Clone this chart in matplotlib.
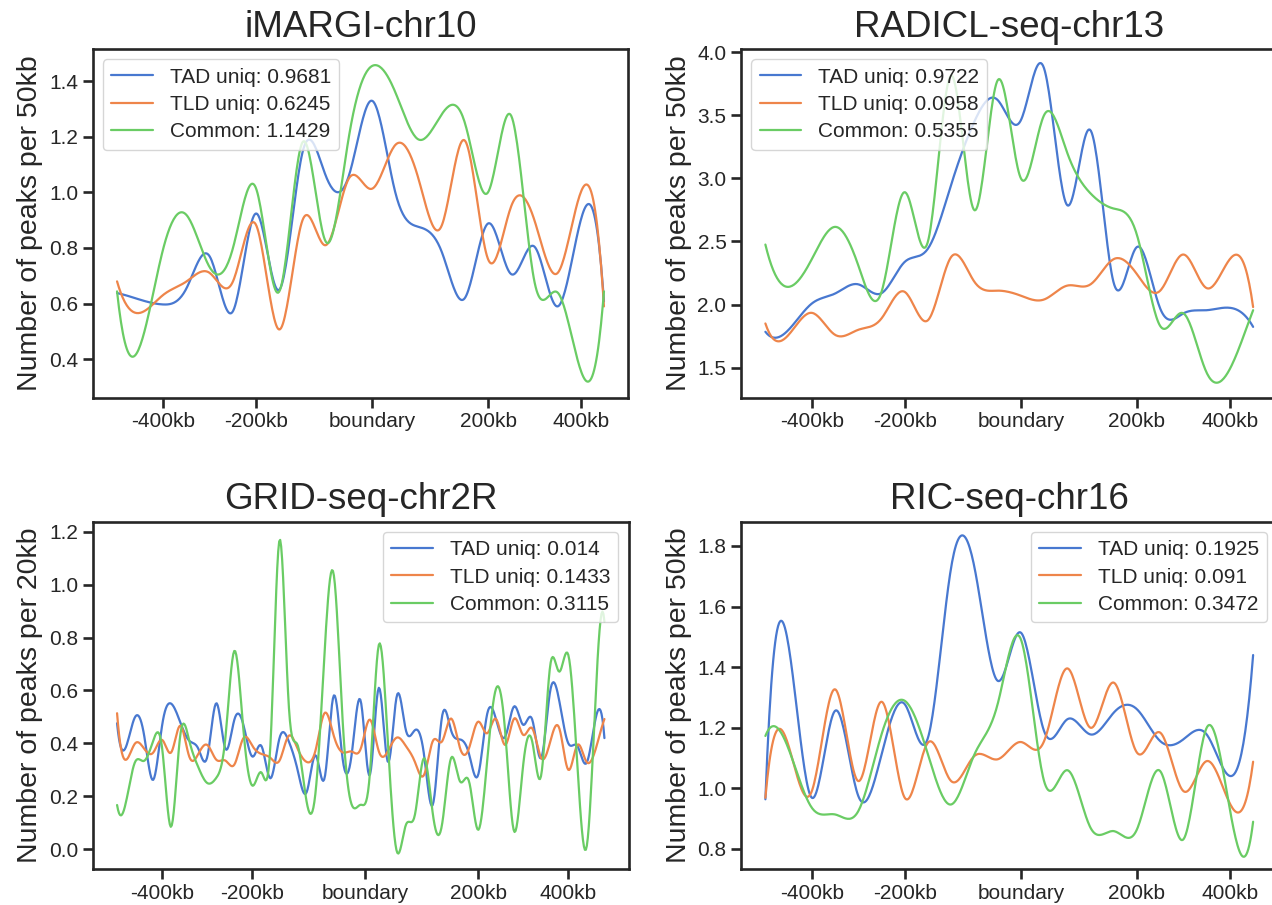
import numpy as np
import matplotlib
matplotlib.use("Agg")
import matplotlib.pyplot as plt
import seaborn as sns

# ---------------- data ----------------
tick_kb = [-450, -250, 0, 250, 450]
tick_labels = ["-400kb", "-200kb", "boundary", "200kb", "400kb"]
series_names = ["TAD uniq", "TLD uniq", "Common"]

# 50kb bins (22 bins), 20kb bins (55 bins)
x50 = np.arange(-550, 501, 50)
x20 = np.arange(-550, 531, 20)

imargi_tad = [0.638, 0.614, 0.597, 0.656, 0.769, 0.573, 0.924, 0.65, 1.144, 1.06, 1.06,
              1.329, 1.0, 0.876, 0.787, 0.62, 0.888, 0.706, 0.805, 0.59, 0.90, 0.608]
imargi_tld = [0.680, 0.567, 0.632, 0.68, 0.71, 0.68, 0.882, 0.507, 0.9, 0.81, 1.05,
              1.013, 1.17, 1.049, 0.88, 1.186, 0.76, 0.95, 0.9, 0.71, 1.0, 0.59]
imargi_common = [0.644, 0.45, 0.80, 0.918, 0.73, 0.80, 1.013, 0.644, 1.18, 0.823, 1.2,
                 1.454, 1.36, 1.19, 1.28, 1.25, 1.0, 1.275, 0.68, 0.64, 0.36, 0.644]
imargi_scores = [0.9681, 0.6245, 1.1429]

radicl_tad = [1.784, 1.80, 2.008, 2.087, 2.16, 2.09, 2.338, 2.443, 2.95, 3.45, 3.62,
              3.46, 3.87, 2.786, 3.38, 2.17, 2.456, 1.968, 1.93, 1.955, 1.974, 1.823]
radicl_tld = [1.85, 1.76, 1.934, 1.76, 1.8, 1.89, 2.1, 1.876, 2.377, 2.18, 2.11,
              2.07, 2.04, 2.15, 2.16, 2.36, 2.24, 2.11, 2.396, 2.13, 2.36, 1.98]
radicl_common = [2.475, 2.14, 2.36, 2.615, 2.31, 2.1, 2.89, 2.5, 3.815, 2.747, 3.776,
                 3.0, 3.5, 3.2, 2.88, 2.76, 2.55, 1.83, 1.93, 1.46, 1.49, 1.955]
radicl_scores = [0.9722, 0.0958, 0.5355]

grid_tad = [0.476, 0.388, 0.50, 0.43, 0.262, 0.47, 0.55, 0.48, 0.41, 0.38, 0.35,
            0.552, 0.38, 0.49, 0.47, 0.35, 0.39, 0.268, 0.42, 0.41, 0.30, 0.215,
            0.355, 0.27, 0.58, 0.34, 0.36, 0.56, 0.28, 0.61, 0.33, 0.58, 0.45,
            0.45, 0.36, 0.17, 0.50, 0.45, 0.415, 0.36, 0.28, 0.51, 0.49, 0.425,
            0.54, 0.47, 0.49, 0.345, 0.60, 0.56, 0.40, 0.39, 0.325, 0.49, 0.42]
grid_tld = [0.514, 0.338, 0.40, 0.38, 0.365, 0.413, 0.366, 0.467, 0.35, 0.36, 0.394,
            0.338, 0.335, 0.32, 0.42, 0.39, 0.36, 0.345, 0.335, 0.428, 0.38, 0.33,
            0.375, 0.515, 0.43, 0.366, 0.369, 0.38, 0.49, 0.37, 0.37, 0.422, 0.39,
            0.33, 0.28, 0.41, 0.407, 0.494, 0.382, 0.382, 0.482, 0.438, 0.492, 0.394,
            0.494, 0.432, 0.457, 0.344, 0.407, 0.457, 0.30, 0.394, 0.331, 0.375, 0.492]
grid_common = [0.167, 0.18, 0.33, 0.334, 0.41, 0.38, 0.085, 0.43, 0.41, 0.31, 0.25,
               0.27, 0.42, 0.75, 0.45, 0.24, 0.29, 0.40, 1.169, 0.558, 0.394, 0.18,
               0.218, 0.75, 1.04, 0.482, 0.168, 0.168, 0.281, 0.772, 0.407, -0.009, 0.092,
               0.13, 0.344, 0.13, 0.092, 0.344, 0.256, 0.256, 0.073, 0.331, 0.608, 0.445,
               0.067, 0.319, 0.407, 0.281, 0.696, 0.671, 0.734, 0.319, 0.004, 0.56, 0.86]
grid_scores = [0.014, 0.1433, 0.3115]

ric_tad = [0.964, 1.47, 0.969, 1.256, 0.975, 1.112, 1.278, 1.167, 1.73, 1.73, 1.355,
           1.514, 1.189, 1.228, 1.178, 1.25, 1.261, 1.156, 1.162, 1.178, 1.041, 1.44]
ric_tld = [0.969, 1.14, 0.991, 1.327, 1.024, 1.286, 0.969, 1.151, 1.024, 1.107, 1.096,
           1.153, 1.156, 1.396, 1.2, 1.349, 1.118, 1.184, 0.991, 1.09, 0.95, 1.088]
ric_common = [1.173, 1.13, 0.936, 0.914, 0.925, 1.178, 1.289, 1.112, 0.947, 1.112, 1.278,
              1.492, 1.024, 1.06, 0.87, 0.859, 0.865, 1.057, 0.832, 1.2, 0.93, 0.89]
ric_scores = [0.1925, 0.091, 0.3472]


# ------------- cubic spline (not-a-knot), used only for drawing -------------
def smooth(x, y, num=500):
    y = np.asarray(y, float)
    n = len(y)
    N = 4 * (n - 1)
    A = np.zeros((N, N))
    b = np.zeros(N)
    r = 0
    for i in range(n - 1):
        A[r, 4 * i] = 1; b[r] = y[i]; r += 1
        A[r, 4 * i:4 * i + 4] = [1, 1, 1, 1]; b[r] = y[i + 1]; r += 1
    for i in range(n - 2):
        A[r, 4 * i:4 * i + 4] = [0, 1, 2, 3]; A[r, 4 * (i + 1) + 1] = -1; r += 1
        A[r, 4 * i:4 * i + 4] = [0, 0, 2, 6]; A[r, 4 * (i + 1) + 2] = -2; r += 1
    A[r, 3] = 1; A[r, 7] = -1; r += 1
    A[r, 4 * (n - 3) + 3] = 1; A[r, 4 * (n - 2) + 3] = -1; r += 1
    coef = np.linalg.solve(A, b).reshape(-1, 4)
    u = np.linspace(0, n - 1, num)
    idx = np.clip(np.floor(u).astype(int), 0, n - 2)
    t = u - idx
    c = coef[idx]
    ys = c[:, 0] + c[:, 1] * t + c[:, 2] * t ** 2 + c[:, 3] * t ** 3
    xs = x[0] + u * (x[1] - x[0])
    return xs, ys


# ---------------- style ----------------
sns.set_theme(style="ticks", palette="muted")
plt.rcParams["font.family"] = ["Liberation Sans", "DejaVu Sans"]
colors = sns.color_palette("muted")[:3]

fig = plt.figure(figsize=(12.72, 9.05), dpi=100)
W, H = 1272.0, 905.0


def rect(l, r, t, b):
    return [l / W, 1 - b / H, (r - l) / W, (b - t) / H]


panels = [
    dict(title="iMARGI-chr10", x=x50, ys=[imargi_tad, imargi_tld, imargi_common],
         sc=imargi_scores, ylab="Number of peaks per 50kb", loc="upper left",
         rect=rect(92.7, 628.3, 49, 397.7), ylim=(0.262, 1.515)),
    dict(title="RADICL-seq-chr13", x=x50, ys=[radicl_tad, radicl_tld, radicl_common],
         sc=radicl_scores, ylab="Number of peaks per 50kb", loc="upper left",
         rect=rect(741.0, 1277.5, 49, 397.7), ylim=(1.262, 4.024)),
    dict(title="GRID-seq-chr2R", x=x20, ys=[grid_tad, grid_tld, grid_common],
         sc=grid_scores, ylab="Number of peaks per 20kb", loc="upper right",
         rect=rect(92.7, 628.8, 521.7, 869.3), ylim=(-0.076, 1.238)),
    dict(title="RIC-seq-chr16", x=x50, ys=[ric_tad, ric_tld, ric_common],
         sc=ric_scores, ylab="Number of peaks per 50kb", loc="upper right",
         rect=rect(741.0, 1277.5, 521.7, 869.3), ylim=(0.733, 1.88)),
]

for p in panels:
    ax = fig.add_axes(p["rect"])
    for name, yv, s, col in zip(series_names, p["ys"], p["sc"], colors):
        xs, ys = smooth(p["x"], yv)
        ax.plot(xs, ys, color=col, lw=1.6, label=f"{name}: {s}")
    ax.set_xlim(p["x"][0] - 0.05 * (p["x"][-1] - p["x"][0]),
                p["x"][-1] + 0.05 * (p["x"][-1] - p["x"][0]))
    ax.set_ylim(*p["ylim"])
    ax.set_xticks(tick_kb)
    ax.set_xticklabels(tick_labels)
    ax.set_title(p["title"], fontsize=26.5, color=".15", pad=9)
    ax.set_ylabel(p["ylab"], fontsize=20.5, color=".15")
    ax.tick_params(labelsize=15, length=7, width=1.9, colors=".15", labelcolor=".15")
    for sp in ax.spines.values():
        sp.set_linewidth(1.9)
        sp.set_color(".15")
    ax.legend(loc=p["loc"], fontsize=15, labelspacing=0.4, handlelength=2.0,
              borderpad=0.4, frameon=True, framealpha=0.8, edgecolor="0.8")

fig.savefig("out.png", dpi=100)
